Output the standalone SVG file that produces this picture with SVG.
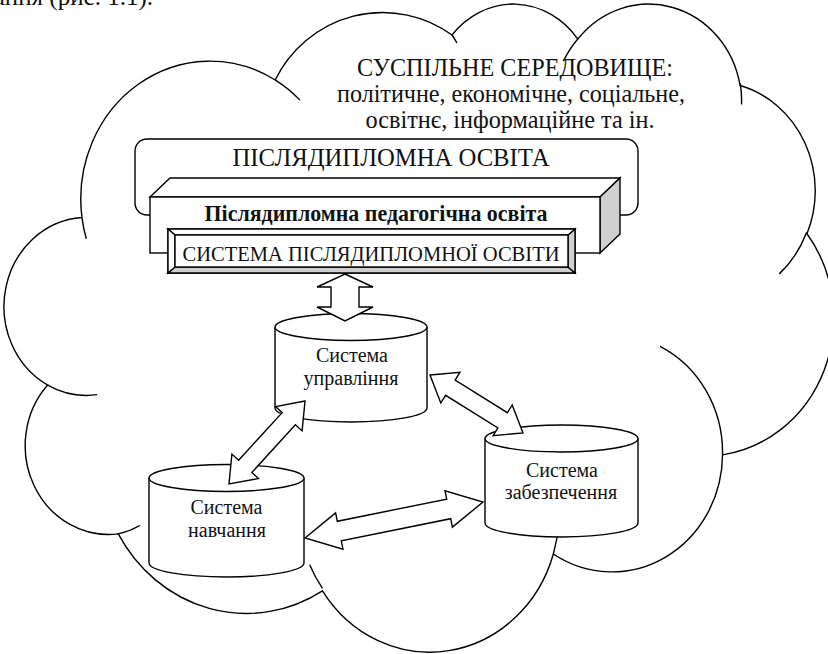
<svg xmlns="http://www.w3.org/2000/svg" width="828" height="654" viewBox="0 0 828 654">
<defs>
<style>
.ln{stroke:#000;stroke-width:1.4;fill:#fff;stroke-linejoin:miter}
.cl{stroke:#000;stroke-width:1.4;vector-effect:non-scaling-stroke}
.t{font-family:"Liberation Serif","Times New Roman",serif;fill:#111;text-anchor:middle}
.gray{fill:#cfcfcf}
</style>
</defs>
<rect width="828" height="654" fill="#fff"/>
<text class="t" x="153" y="5" font-size="25" style="text-anchor:end">ання (рис. 1.1).</text>
<g id="cloud" transform="matrix(0.019122 0 0 0.015 7.4 2)">
<path class="cl" fill="#fff" d="M3900 14370 A6753 9190 0 0 1 14005 5202 A6276 8133 0 0 1 23250 2200 A4365 6400 0 0 1 29829 2470 A4857 6595 0 0 1 38315 5564 A5333 7273 0 0 1 41815 15448 A6775 9220 0 0 1 37399 30189 A5785 7867 0 0 1 28551 36800 A6752 9215 0 0 1 16476 39253 A7720 10543 0 0 1 5798 35460 A4360 5918 0 0 1 2106 25539 A4345 5945 0 0 1 3900 14370 Z"/>
<path class="cl" fill="none" d="M4693 26177 A4345 5945 0 0 1 2106 25539 M6928 34899 A4360 5918 0 0 1 5798 35460 M16478 39090 A6752 9215 0 0 1 15808 37511 M28827 34751 A6752 9215 0 0 1 28551 36800 M34129 22954 A5785 7867 0 0 1 37399 30189 M41798 15354 A5333 7273 0 0 1 40367 18125 M38324 5426 A4857 6595 0 0 1 38392 6828 M29078 3952 A4857 6595 0 0 1 29829 2470 M23250 2200 A6276 8133 0 0 1 23512 2733 M14000 5192 A6753 9190 0 0 1 15297 6542 M4127 15789 A6753 9190 0 0 1 3900 14370"/>
</g>
<g id="environment">
<text class="t" x="515" y="76" font-size="25" textLength="316" lengthAdjust="spacingAndGlyphs">СУСПІЛЬНЕ СЕРЕДОВИЩЕ:</text>
<text class="t" x="511" y="102" font-size="25" textLength="348" lengthAdjust="spacingAndGlyphs">політичне, економічне, соціальне,</text>
<text class="t" x="510" y="128" font-size="25" textLength="289" lengthAdjust="spacingAndGlyphs">освітнє, інформаційне та ін.</text>
</g>
<g id="postgrad-education">
<rect class="ln" x="135" y="139" width="503" height="76" rx="12"/>
<text class="t" x="391" y="166" font-size="26" textLength="317" lengthAdjust="spacingAndGlyphs">ПІСЛЯДИПЛОМНА ОСВІТА</text>
</g>
<g id="ped-education">
<polygon class="ln" points="150,197 170,178 620,178 600,197"/>
<polygon class="ln gray" points="600,197 620,178 620,234 600,253"/>
<rect class="ln" x="150" y="197" width="450" height="56"/>
<text class="t" x="376" y="221" font-size="22.5" font-weight="bold" textLength="343" lengthAdjust="spacingAndGlyphs">Післядипломна педагогічна освіта</text>
</g>
<g id="postgrad-system">
<rect class="ln" x="168" y="229" width="407" height="44"/>
<polygon class="ln gray" points="168,273 575,273 568,267 175,267"/>
<polygon class="ln gray" points="575,229 575,273 568,267 568,235"/>
<polygon class="ln" points="168,229 575,229 568,235 175,235"/>
<polygon class="ln" points="168,229 175,235 175,267 168,273"/>
<rect class="ln" x="175" y="235" width="393" height="32"/>
<text class="t" x="371" y="261" font-size="22" textLength="377" lengthAdjust="spacingAndGlyphs">СИСТЕМА ПІСЛЯДИПЛОМНОЇ ОСВІТИ</text>
</g>
<g id="management">
<path class="ln" d="M275,327 V408 A76,14 0 0 0 427,408 V327"/>
<ellipse class="ln" cx="351" cy="327" rx="76" ry="13.5"/>
<text class="t" x="352" y="362" font-size="20">Система</text>
<text class="t" x="351" y="385" font-size="20">управління</text>
</g>
<g id="learning">
<path class="ln" d="M149,478 V563 A77.5,14 0 0 0 304,563 V478"/>
<ellipse class="ln" cx="226.5" cy="478" rx="77.5" ry="13.5"/>
<text class="t" x="226.5" y="514" font-size="20">Система</text>
<text class="t" x="227" y="537" font-size="20">навчання</text>
</g>
<g id="support">
<path class="ln" d="M485,438.5 V523 A76.5,14 0 0 0 638,523 V438.5"/>
<ellipse class="ln" cx="561.5" cy="438.5" rx="76.5" ry="13.5"/>
<text class="t" x="562" y="477" font-size="20">Система</text>
<text class="t" x="561" y="499" font-size="20">забезпечення</text>
</g>
<g id="connectors">
<polygon class="ln" points="345,274 373,287 359,287 359,307 373,307 345,321 317,307 331,307 331,287 317,287"/>
<polygon class="ln" points="305,401 275.5,406.6 282.2,412.6 238.6,460.2 231.9,454.1 229,484 258.5,478.5 251.9,472.4 295.4,424.8 302.1,430.9"/>
<polygon class="ln" points="430,375 459.9,372.4 455.1,380.1 507.4,412.7 512.2,405 523,433 493.1,435.6 497.9,427.9 445.6,395.3 440.8,403"/>
<polygon class="ln" points="305,538 335.6,512.9 337.3,521.3 446.7,499.1 445,490.8 483,502 452.4,527.1 450.7,518.7 341.3,540.9 343,549.2"/>
</g>
</svg>
